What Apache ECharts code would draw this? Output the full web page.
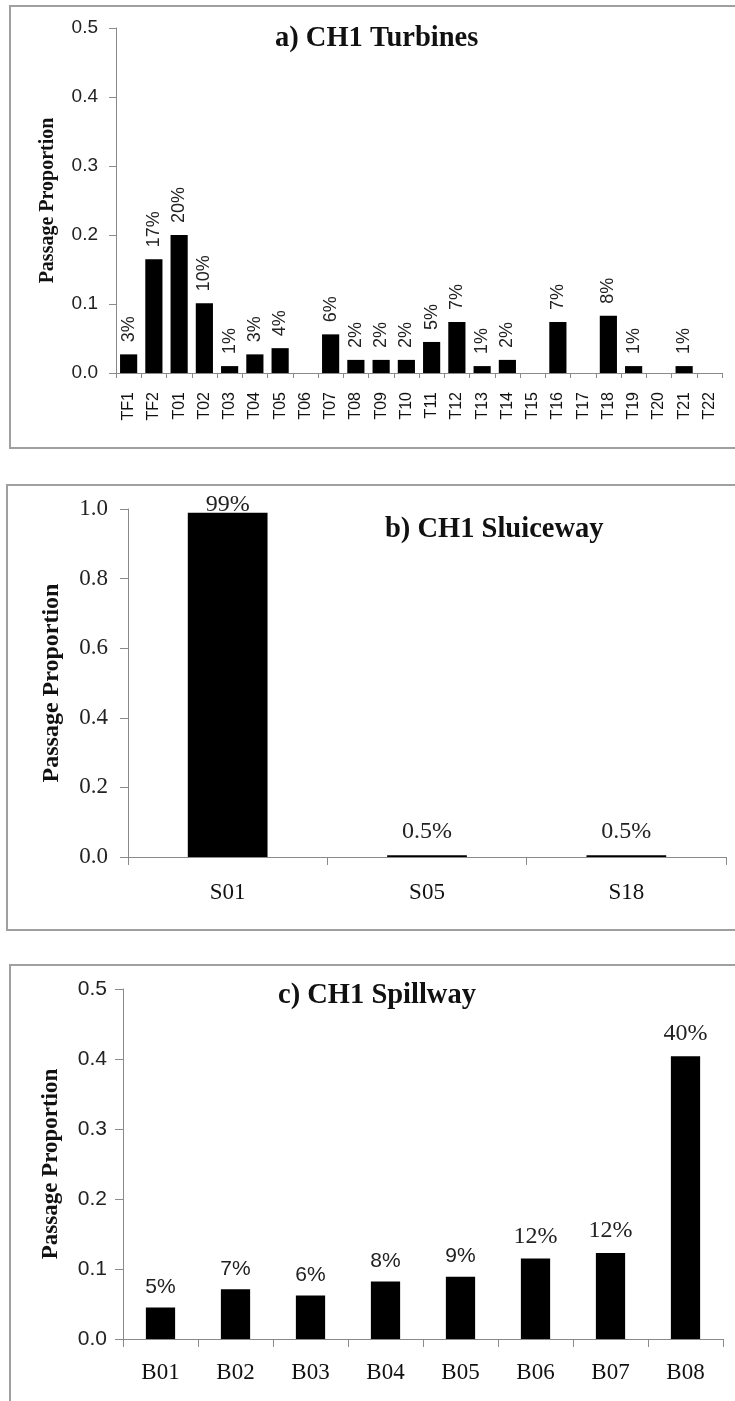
<!DOCTYPE html>
<html>
<head>
<meta charset="utf-8">
<script src="https://cdn.jsdelivr.net/npm/echarts@6/dist/echarts.min.js"></script>
<style>
html,body{margin:0;padding:0;background:#fff;}
#chart{width:735px;height:1401px;}
</style>
</head>
<body>
<div id="chart"></div>
<script>
// ---- Data ----
const turbineCats = ['TF1','TF2','T01','T02','T03','T04','T05','T06','T07','T08','T09','T10','T11','T12','T13','T14','T15','T16','T17','T18','T19','T20','T21','T22'];
const turbineVals = [0.027,0.165,0.200,0.101,0.010,0.027,0.036,0,0.056,0.019,0.019,0.019,0.045,0.074,0.010,0.019,0,0.074,0,0.083,0.010,0,0.010,0];
const turbineLabels = ['3%','17%','20%','10%','1%','3%','4%','','6%','2%','2%','2%','5%','7%','1%','2%','','7%','','8%','1%','','1%',''];

const sluiceCats = ['S01','S05','S18'];
const sluiceVals = [0.989,0.005,0.005];
const sluiceLabels = ['99%','0.5%','0.5%'];

const spillCats = ['B01','B02','B03','B04','B05','B06','B07','B08'];
const spillVals = [0.045,0.071,0.062,0.082,0.089,0.115,0.123,0.404];
const spillLabels = ['5%','7%','6%','8%','9%','12%','12%','40%'];

const yTicksA = [0,0.1,0.2,0.3,0.4,0.5];
const yTicksB = [0,0.2,0.4,0.6,0.8,1.0];
const yTicksC = [0,0.1,0.2,0.3,0.4,0.5];

const titles = ['a) CH1 Turbines','b) CH1 Sluiceway','c) CH1 Spillway'];
const yName = 'Passage Proportion';

// ---- Styles ----
const SERIF = '"Liberation Serif","Times New Roman",serif';
const SANS = '"Liberation Sans",Arial,sans-serif';
const AXIS = '#8a8a8a';
const FRAME = '#a0a0a0';

function yAxis(gridIndex, ticks, fontFamily, fontSize, margin, nameSize, nameGap, tickLen){
  return {
    type:'value', gridIndex,
    min: ticks[0], max: ticks[ticks.length-1], interval: ticks[1]-ticks[0],
    axisLine:{show:true, lineStyle:{color:AXIS, width:1}},
    axisTick:{show:true, length:tickLen, lineStyle:{color:AXIS}},
    splitLine:{show:false},
    axisLabel:{fontFamily, fontSize, color:'#222', margin, formatter:v=>v.toFixed(1)},
    name: yName, nameLocation:'middle', nameGap, nameRotate:90,
    nameTextStyle:{fontFamily:SERIF, fontWeight:'bold', fontSize:nameSize, color:'#111'}
  };
}
function xAxis(gridIndex, cats, labelOpt, tickLen){
  return {
    type:'category', gridIndex, data:cats, boundaryGap:true,
    axisLine:{show:true, lineStyle:{color:AXIS, width:1}},
    axisTick:{show:true, length:tickLen, alignWithLabel:false, interval:0, lineStyle:{color:AXIS}},
    axisLabel:Object.assign({interval:0, color:'#111'}, labelOpt),
    splitLine:{show:false}
  };
}

const titleStyle = {fontFamily:SERIF, fontWeight:'bold', fontSize:28.5, color:'#111'};

const option = {
  animation:false,
  backgroundColor:'#fff',
  title:[
    {text:titles[0], left:275, top:24, padding:0, textStyle:titleStyle},
    {text:titles[1], left:385, top:515, padding:0, textStyle:titleStyle},
    {text:titles[2], left:278, top:981, padding:0, textStyle:titleStyle}
  ],
  graphic:[
    {type:'rect', shape:{x:10, y:6, width:740, height:442}, style:{fill:null, stroke:FRAME, lineWidth:2}, z:-1},
    {type:'rect', shape:{x:7, y:485, width:740, height:445}, style:{fill:null, stroke:FRAME, lineWidth:2}, z:-1},
    {type:'rect', shape:{x:10, y:965, width:740, height:500}, style:{fill:null, stroke:FRAME, lineWidth:2}, z:-1}
  ],
  grid:[
    {left:116, top:28, width:606, height:345},
    {left:128, top:509, width:598, height:348},
    {left:123, top:989, width:600, height:350}
  ],
  xAxis:[
    xAxis(0, turbineCats, {rotate:90, fontFamily:SANS, fontSize:16, margin:19}, 5),
    xAxis(1, sluiceCats, {fontFamily:SERIF, fontSize:23, margin:24}, 8),
    xAxis(2, spillCats, {fontFamily:SERIF, fontSize:23, margin:22}, 8)
  ],
  yAxis:[
    yAxis(0, yTicksA, SANS, 19, 18, 20, 58, 7),
    yAxis(1, yTicksB, SERIF, 23, 20, 24, 64, 8),
    yAxis(2, yTicksC, SANS, 21, 16, 23, 60, 8)
  ],
  series:[
    {
      type:'bar', xAxisIndex:0, yAxisIndex:0, barCategoryGap:'32%',
      itemStyle:{color:'#000'},
      data: turbineVals.map((v,i)=>({value:v, label:{formatter:turbineLabels[i]}})),
      label:{show:true, position:'top', rotate:90, align:'left', verticalAlign:'middle', distance:12,
        fontFamily:SANS, fontSize:18, color:'#222'}
    },
    {
      type:'bar', xAxisIndex:1, yAxisIndex:1, barCategoryGap:'60%',
      itemStyle:{color:'#000'},
      data: sluiceVals.map((v,i)=>({value:v, label:{formatter:sluiceLabels[i], distance: i===0 ? -4 : 12}})),
      label:{show:true, position:'top', fontFamily:SERIF, fontSize:24, color:'#222'}
    },
    {
      type:'bar', xAxisIndex:2, yAxisIndex:2, barCategoryGap:'61%',
      itemStyle:{color:'#000'},
      data: spillVals.map((v,i)=>({value:v, label:{formatter:spillLabels[i], fontFamily: i>=5 ? SERIF : SANS, fontSize: i>=5 ? 24 : 21}})),
      label:{show:true, position:'top', distance:10, color:'#222'}
    }
  ]
};

const chart = echarts.init(document.getElementById('chart'), null, {renderer:'canvas'});
chart.setOption(option);
</script>
</body>
</html>
